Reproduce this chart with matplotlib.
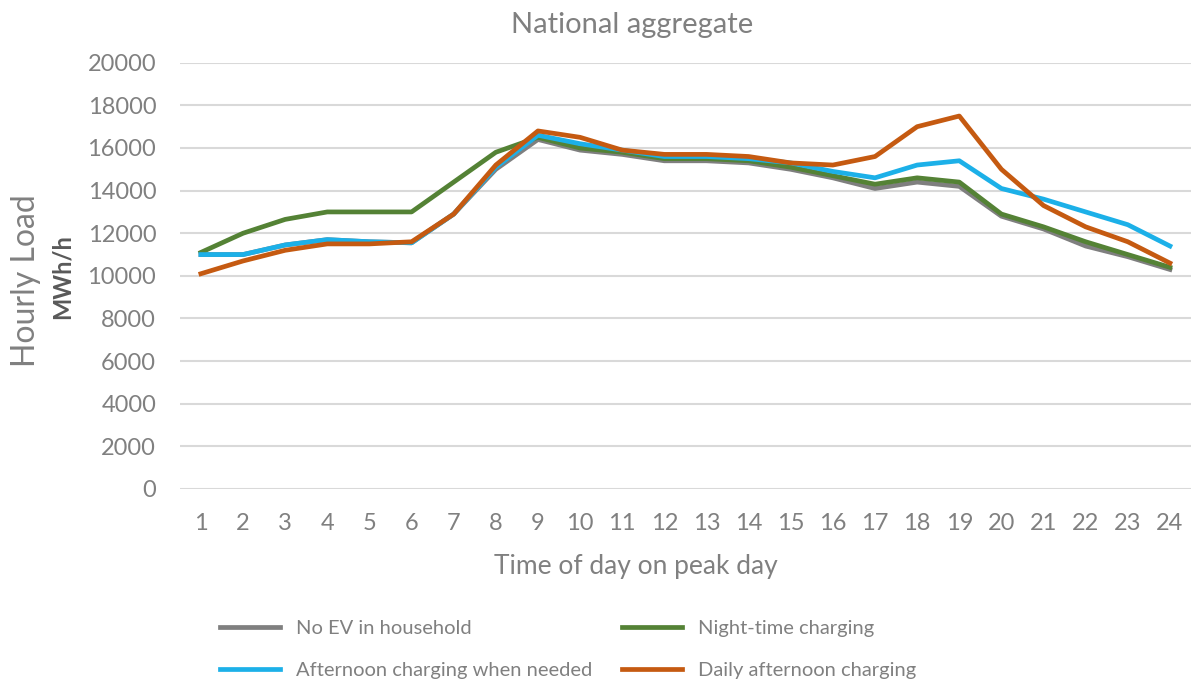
import matplotlib.pyplot as plt

hours = list(range(1, 25))

no_ev = [11000, 11000, 11450, 11700, 11600, 11550, 12900, 15000, 16400, 15900, 15700, 15400,
         15400, 15300, 15000, 14600, 14100, 14400, 14200, 12800, 12200, 11400, 10900, 10300]
night_time = [11100, 12000, 12650, 13000, 13000, 13000, 14400, 15800, 16500, 16000, 15800, 15500,
              15500, 15400, 15100, 14700, 14300, 14600, 14400, 12900, 12300, 11600, 11000, 10400]
afternoon_needed = [11000, 11000, 11450, 11700, 11600, 11550, 12900, 15100, 16600, 16200, 15900, 15600,
                    15600, 15500, 15300, 14900, 14600, 15200, 15400, 14100, 13600, 13000, 12400, 11400]
daily_afternoon = [10100, 10700, 11200, 11500, 11500, 11600, 12900, 15200, 16800, 16500, 15900, 15700,
                   15700, 15600, 15300, 15200, 15600, 17000, 17500, 15000, 13300, 12300, 11600, 10600]

series_names = ["No EV in household", "Night-time charging",
                "Afternoon charging when needed", "Daily afternoon charging"]
series_colors = ["#7f7f7f", "#548235", "#1cb0e8", "#c55a11"]

plt.rcParams['font.family'] = ['Lato', 'DejaVu Sans']
text_grey = "#808080"

fig = plt.figure(figsize=(11.91, 6.82), dpi=100)
ax = fig.add_axes([0.151, 0.283, 0.849, 0.625])

lines = []
for vals, name, col in zip([no_ev, night_time, afternoon_needed, daily_afternoon],
                           series_names, series_colors):
    ln, = ax.plot(hours, vals, color=col, lw=3.4, label=name, solid_joinstyle='round')
    lines.append(ln)

ax.set_xlim(0.5, 24.5)
ax.set_ylim(0, 20000)
ax.set_yticks(range(0, 20001, 2000))
ax.set_xticks(hours)
ax.grid(axis='y', color='#d9d9d9', lw=1.5)
ax.set_axisbelow(True)
for s in ax.spines.values():
    s.set_visible(False)
ax.tick_params(length=0, labelsize=17, labelcolor=text_grey)
ax.tick_params(axis='y', pad=17)
ax.tick_params(axis='x', pad=17)

fig.text(0.531, 0.963, "National aggregate", ha='center', va='center', fontsize=21, color=text_grey)
fig.text(0.022, 0.588, "Hourly Load", rotation=90, ha='center', va='center', fontsize=23, color=text_grey)
fig.text(0.052, 0.594, "MWh/h", rotation=90, ha='center', va='center', fontsize=17,
         color="#595959", fontweight='bold')
fig.text(0.534, 0.17, "Time of day on peak day", ha='center', va='center', fontsize=19, color=text_grey)

# row-first ordering like the original legend
order = [0, 2, 1, 3]
leg = fig.legend([lines[i] for i in order], [series_names[i] for i in order],
                 loc='upper left', bbox_to_anchor=(0.178, 0.103), ncol=2, frameon=False,
                 fontsize=14.5, handlelength=3.0, columnspacing=1.5, labelspacing=1.25,
                 handletextpad=0.75, borderaxespad=0)
for t in leg.get_texts():
    t.set_color(text_grey)

fig.savefig("out.png", dpi=100)
